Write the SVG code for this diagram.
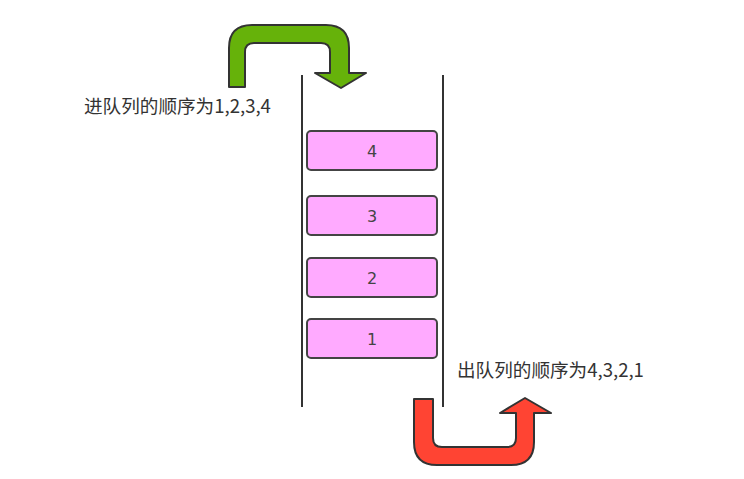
<svg xmlns="http://www.w3.org/2000/svg" width="744" height="479" viewBox="0 0 744 479">
<style>
.lbl{font-family:"Noto Sans CJK SC","Noto Sans",sans-serif;font-size:18.6px;fill:#333}
.box rect{fill:#FFAAFF;stroke:#444;stroke-width:2}
.box text{font-family:"DejaVu Sans","Noto Sans",sans-serif;font-size:16px;fill:#444;text-anchor:middle}
.wall{stroke:#333;stroke-width:2;fill:none}
.arrow{stroke:#333;stroke-width:2;stroke-linejoin:round}
</style>
<rect width="744" height="479" fill="#fff"/>
<g id="walls">
<line class="wall" x1="302" y1="75" x2="302" y2="407"/>
<line class="wall" x1="443" y1="75" x2="443" y2="407"/>
</g>
<g id="connectors">
<path id="enqueue-arrow" class="arrow" fill="#66B20A" d="M229,87 L229,48 Q229,25 252,25 L326,25 Q349,25 349,48 L349,73 L366,73 L341,88 L315,73 L330,73 L330,52 Q330,43 321,43 L254,43 Q245,43 245,52 L245,87 Z"/>
<path id="dequeue-arrow" class="arrow" fill="#FF4433" d="M414,399 L433,399 L433,438 Q433,447 442,447 L507,447 Q516,447 516,438 L516,413 L500,413 L525,398 L551,413 L534,413 L534,442 Q534,465 511,465 L437,465 Q414,465 414,442 Z"/>
</g>
<g id="node-4" class="box"><rect x="307" y="131" width="130" height="39" rx="4"/><text x="372" y="157">4</text></g>
<g id="node-3" class="box"><rect x="307" y="196" width="130" height="39" rx="4"/><text x="372" y="222">3</text></g>
<g id="node-2" class="box"><rect x="307" y="258" width="130" height="39" rx="4"/><text x="372" y="284">2</text></g>
<g id="node-1" class="box"><rect x="307" y="319" width="130" height="39" rx="4"/><text x="372" y="345">1</text></g>
<g id="label-in"><text class="lbl" x="84" y="113">进队列的顺序为1,2,3,4</text></g>
<g id="label-out"><text class="lbl" x="457" y="377">出队列的顺序为4,3,2,1</text></g>
</svg>
